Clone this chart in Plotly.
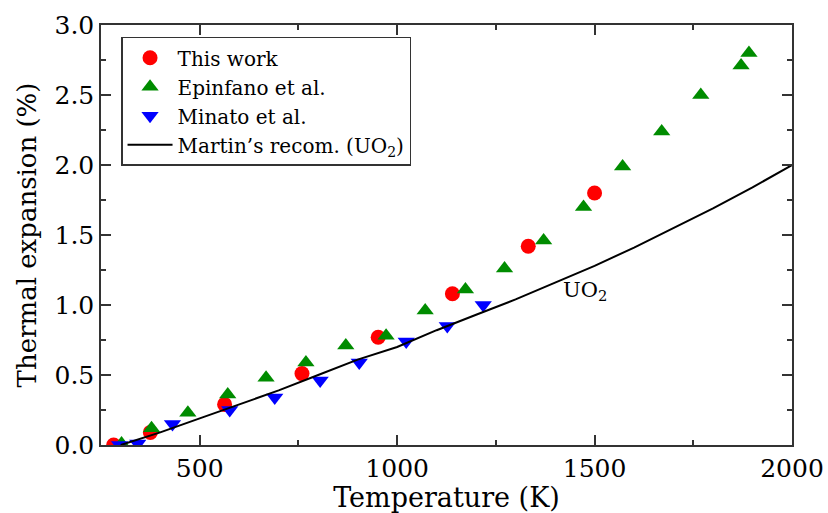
import plotly.graph_objects as go

# This work
this_T = [282, 375, 563, 759, 952, 1140, 1332, 1500]
this_E = [0.00, 0.09, 0.29, 0.51, 0.77, 1.08, 1.42, 1.80]

# Epinfano et al.
epi_T = [302, 378, 470, 571, 668, 769, 870, 972, 1071, 1173, 1272, 1371, 1472, 1571, 1670, 1769, 1871, 1891]
epi_E = [0.01, 0.12, 0.23, 0.36, 0.48, 0.59, 0.71, 0.78, 0.96, 1.11, 1.26, 1.46, 1.70, 1.99, 2.24, 2.50, 2.71, 2.80]

# Minato et al.
min_T = [297, 343, 431, 576, 690, 805, 904, 1023, 1127, 1218]
min_E = [0.00, 0.01, 0.15, 0.25, 0.34, 0.46, 0.59, 0.74, 0.85, 1.00]

# Martin's recommendation (UO2)
mar_T = [300, 400, 500, 600, 700, 800, 900, 1000, 1100, 1200, 1300, 1400, 1500, 1600, 1700, 1800, 1900, 2000]
mar_E = [0.00, 0.09, 0.19, 0.29, 0.39, 0.50, 0.61, 0.70, 0.82, 0.93, 1.04, 1.16, 1.28, 1.41, 1.55, 1.69, 1.84, 2.00]

FF = "DejaVu Serif"

fig = go.Figure()
fig.add_trace(go.Scatter(x=this_T, y=this_E, mode="markers", name="This work", legendgroup="a",
                         marker=dict(symbol="circle", size=15, color="#ff0000")))
fig.add_trace(go.Scatter(x=epi_T, y=epi_E, mode="markers", name="Epinfano et al.", legendgroup="b",
                         marker=dict(symbol="triangle-up", size=15, color="#008c00")))
fig.add_trace(go.Scatter(x=min_T, y=min_E, mode="markers", name="Minato et al.", legendgroup="c",
                         marker=dict(symbol="triangle-down", size=15, color="#0000ff")))
fig.add_trace(go.Scatter(x=mar_T, y=mar_E, mode="lines", name="Martin\u2019s recom. (UO<sub>2</sub>)", legendgroup="d",
                         line=dict(color="black", width=2)))

fig.add_annotation(x=1475, y=1.10, text="UO<sub>2</sub>", showarrow=False,
                   font=dict(family=FF, size=21, color="black"))

axis_common = dict(
    showline=True, linecolor="#333333", linewidth=1.5, mirror="allticks",
    ticks="inside", ticklen=10, tickwidth=1.5, tickcolor="#333333",
    showgrid=False, zeroline=False, automargin=False,
    tickfont=dict(family=FF, size=25, color="black"),
)

fig.update_xaxes(range=[250, 2000], tick0=500, dtick=500,
                 minor=dict(ticks="inside", ticklen=5, dtick=250, tickcolor="#333333", tickwidth=1.5),
                 title=dict(text="Temperature (K)", font=dict(family=FF, size=27, color="black"), standoff=2),
                 **axis_common)
fig.update_yaxes(range=[0, 3.0], dtick=0.5, tickformat=".1f",
                 minor=dict(ticks="inside", ticklen=5, dtick=0.25, tickcolor="#333333", tickwidth=1.5),
                 title=dict(text="Thermal expansion (%)", font=dict(family=FF, size=26, color="black"), standoff=10),
                 **axis_common)

fig.update_layout(
    width=828, height=513,
    margin=dict(l=101, r=36, t=25, b=68),
    paper_bgcolor="white", plot_bgcolor="white",
    font=dict(family=FF, color="black"),
    showlegend=True,
    legend=dict(x=0.029, y=0.972, xanchor="left", yanchor="top",
                bgcolor="white", bordercolor="#333333", borderwidth=1.5,
                font=dict(family=FF, size=20, color="black"),
                tracegroupgap=0, itemsizing="trace", itemwidth=45),
)

fig.write_html("out.html")
